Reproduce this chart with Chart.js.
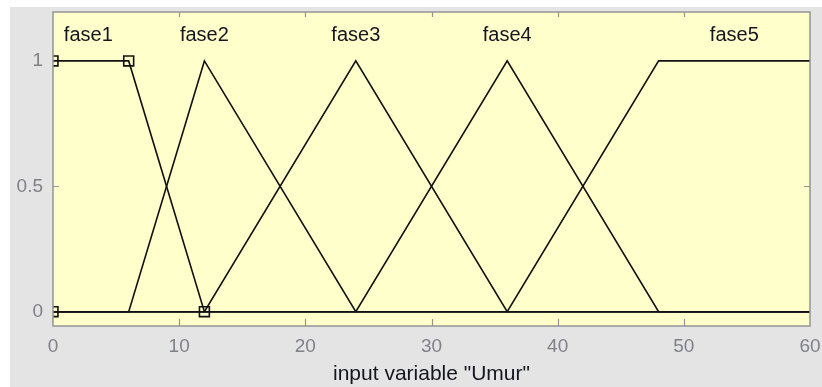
<!DOCTYPE html>
<html>
<head>
<meta charset="utf-8">
<title>Membership functions - Umur</title>
<script src="https://cdn.jsdelivr.net/npm/chart.js@4.4.1/dist/chart.umd.min.js"></script>
<style>
  html, body { margin: 0; padding: 0; background: #ffffff; }
  #wrap { position: relative; width: 822px; height: 387px; overflow: hidden; }
  #panel { position: absolute; left: 10px; top: 7px; right: 0; bottom: 0; background: #e4e4e4; }
  #chart { position: absolute; left: 0; top: 0; }
</style>
</head>
<body>
<div id="wrap">
  <div id="panel"></div>
  <canvas id="chart" width="822" height="387"></canvas>
</div>
<script>
// Membership functions of input variable "Umur"
const MF_NAMES = ['fase1', 'fase2', 'fase3', 'fase4', 'fase5'];

// breakpoints of each membership curve over the range 0..60
const FASE1_X = [0, 6, 12, 60];
const FASE1_Y = [1, 1, 0, 0];
const FASE2_X = [0, 6, 12, 24, 60];
const FASE2_Y = [0, 0, 1, 0, 0];
const FASE3_X = [0, 12, 24, 36, 60];
const FASE3_Y = [0, 0, 1, 0, 0];
const FASE4_X = [0, 24, 36, 48, 60];
const FASE4_Y = [0, 0, 1, 0, 0];
const FASE5_X = [0, 36, 48, 60];
const FASE5_Y = [0, 0, 1, 1];

// square handles on the selected function (fase1, trapmf [0 0 6 12])
const HANDLE_X = [0, 0, 6, 12];
const HANDLE_Y = [0, 1, 1, 0];

// where the names sit above the curves
const LABEL_X = [2.8, 12, 24, 36, 54];
const LABEL_Y = 1.08;

const X_TICKS = [0, 10, 20, 30, 40, 50, 60];
const Y_TICKS = [0, 0.5, 1];

const FONT = "'Liberation Sans', Arial, sans-serif";
const LINE = '#111111';
const FRAME = '#949494';

function pts(xs, ys) {
  return xs.map((x, i) => ({ x, y: ys[i] }));
}

const curves = [
  [FASE1_X, FASE1_Y], [FASE2_X, FASE2_Y], [FASE3_X, FASE3_Y],
  [FASE4_X, FASE4_Y], [FASE5_X, FASE5_Y]
];

const datasets = curves.map(([xs, ys], i) => ({
  label: MF_NAMES[i],
  data: pts(xs, ys),
  borderColor: LINE,
  borderWidth: 1.6,
  pointRadius: 0,
  tension: 0,
  fill: false
}));

datasets.push({
  label: 'handles',
  data: pts(HANDLE_X, HANDLE_Y),
  showLine: false,
  pointStyle: 'rect',
  pointRadius: 7,
  pointBorderWidth: 1.6,
  pointBorderColor: LINE,
  pointBackgroundColor: 'rgba(0,0,0,0)'
});

// yellow axes background, frame, inward tick marks and curve names
const axesDecor = {
  id: 'axesDecor',
  beforeDatasetsDraw(chart) {
    const { ctx, chartArea: a } = chart;
    ctx.save();
    ctx.fillStyle = '#ffffcc';
    ctx.fillRect(a.left, a.top, a.right - a.left, a.bottom - a.top);
    ctx.restore();
  },
  afterDatasetsDraw(chart) {
    const { ctx, chartArea: a, scales } = chart;
    ctx.save();
    ctx.strokeStyle = FRAME;
    ctx.lineWidth = 1.5;
    ctx.strokeRect(a.left, a.top, a.right - a.left, a.bottom - a.top);

    ctx.lineWidth = 1.2;
    ctx.beginPath();
    X_TICKS.slice(1, -1).forEach(v => {
      const px = Math.round(scales.x.getPixelForValue(v)) + 0.5;
      ctx.moveTo(px, a.bottom);
      ctx.lineTo(px, a.bottom - 7);
      ctx.moveTo(px, a.top);
      ctx.lineTo(px, a.top + 5);
    });
    const py = Math.round(scales.y.getPixelForValue(0.5)) + 0.5;
    ctx.moveTo(a.left, py);
    ctx.lineTo(a.left + 6, py);
    ctx.moveTo(a.right, py);
    ctx.lineTo(a.right - 6, py);
    ctx.stroke();

    ctx.fillStyle = '#151520';
    ctx.font = '20px ' + FONT;
    ctx.textAlign = 'center';
    ctx.textBaseline = 'alphabetic';
    MF_NAMES.forEach((name, i) => {
      ctx.fillText(name, scales.x.getPixelForValue(LABEL_X[i]), scales.y.getPixelForValue(LABEL_Y));
    });
    ctx.restore();
  }
};

new Chart(document.getElementById('chart').getContext('2d'), {
  type: 'line',
  data: { datasets },
  options: {
    responsive: false,
    animation: false,
    devicePixelRatio: 1,
    layout: { padding: { left: 0, top: 12, right: 12, bottom: 0 } },
    plugins: {
      legend: { display: false },
      tooltip: { enabled: false }
    },
    scales: {
      x: {
        type: 'linear',
        min: 0,
        max: 60,
        afterBuildTicks: s => { s.ticks = X_TICKS.map(v => ({ value: v })); },
        afterFit: s => {
          s.height = 61;
          s.paddingLeft = 0;
          s.paddingRight = 0;
        },
        grid: { display: false, drawTicks: false },
        border: { display: false },
        ticks: {
          color: '#80808a',
          font: { family: FONT, size: 19 },
          padding: 9,
          maxRotation: 0
        },
        title: {
          display: true,
          text: 'input variable "Umur"',
          color: '#151520',
          font: { family: FONT, size: 21 },
          padding: { top: 0, bottom: 0 }
        }
      },
      y: {
        type: 'linear',
        min: -0.057,
        max: 1.195,
        afterBuildTicks: s => { s.ticks = Y_TICKS.map(v => ({ value: v })); },
        afterFit: s => {
          s.width = 53;
          s.paddingTop = 0;
          s.paddingBottom = 0;
        },
        grid: { display: false, drawTicks: false },
        border: { display: false },
        ticks: {
          color: '#80808a',
          font: { family: FONT, size: 19 },
          padding: 10,
          callback: v => String(v)
        }
      }
    }
  },
  plugins: [axesDecor]
});
</script>
</body>
</html>
